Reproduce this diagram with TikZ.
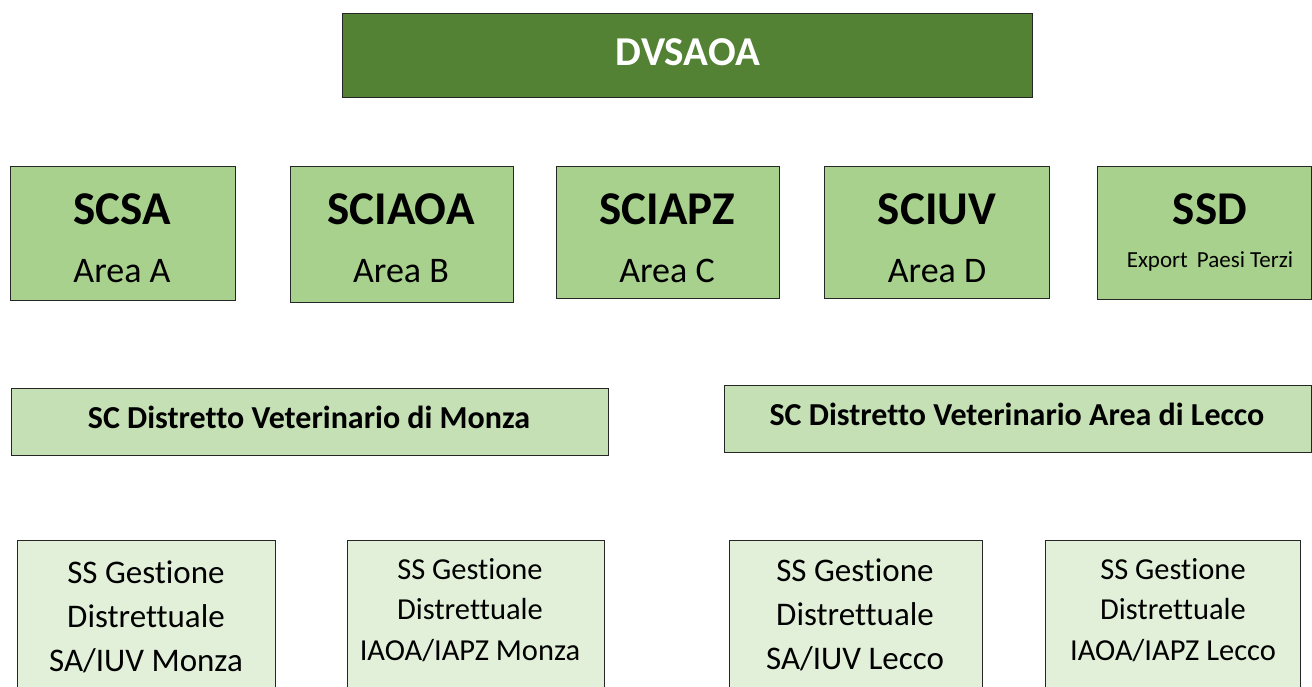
\documentclass[tikz,border=0pt]{standalone}
\usepackage{fontspec}
\setmainfont{Carlito}[Ligatures=NoCommon]
\definecolor{dkgreen}{HTML}{548235}
\definecolor{midgreen}{HTML}{A9D18E}
\definecolor{ltgreen}{HTML}{C5E0B4}
\definecolor{pale}{HTML}{E2F0D9}
\tikzset{
  boxbase/.style={draw=black!85, line width=1pt, inner sep=0pt},
  topbox/.style={boxbase, fill=dkgreen},
  areabox/.style={boxbase, fill=midgreen},
  distbox/.style={boxbase, fill=ltgreen},
  subbox/.style={boxbase, fill=pale},
  txt/.style={anchor=base, inner sep=0pt},
}
\begin{document}
\begin{tikzpicture}[x=1pt,y=-1pt]
\useasboundingbox (0,0) rectangle (1312,687);
\clip (0,0) rectangle (1312,687);
% top
\draw[topbox] (342,14) rectangle (1032,98);
\node[txt, text=white, font=\fontsize{41}{46}\selectfont\bfseries] (dv) at (688,66) {DVSAOA};
% row 2
\draw[areabox] (10,167) rectangle (235,300);
\draw[areabox] (290,167) rectangle (513,302);
\draw[areabox] (556,167) rectangle (779,298);
\draw[areabox] (824,167) rectangle (1049,298);
\draw[areabox] (1097,167) rectangle (1311,299);
\tikzset{big/.style={txt, font=\fontsize{47}{52}\selectfont\bfseries},
         mid/.style={txt, font=\fontsize{36}{42}\selectfont}}
\node[big] (a1) at (122,225) {SCSA};
\node[mid] (a2) at (122,282) {Area A};
\node[big] (b1) at (401,225) {SCIAOA};
\node[mid] (b2) at (401,282) {Area B};
\node[big] (c1) at (667,225) {SCIAPZ};
\node[mid] (c2) at (667,282) {Area C};
\node[big] (d1) at (937,225) {SCIUV};
\node[mid] (d2) at (937,282) {Area D};
\node[big] (e1) at (1210,225) {SSD};
\node[txt, font=\fontsize{23}{28}\selectfont] (e2) at (1210,267) {Export\ \,Paesi Terzi};
% row 3
\draw[distbox] (11,388) rectangle (608,455);
\draw[distbox] (724,385) rectangle (1311,452);
\tikzset{dtxt/.style={txt, font=\fontsize{32}{36}\selectfont\bfseries}}
\node[dtxt] (m) at (309,428) {SC Distretto Veterinario di Monza};
\node[dtxt] (l) at (1017,425) {SC Distretto Veterinario Area di Lecco};
% row 4
\draw[subbox] (17,540) rectangle (275,700);
\draw[subbox] (347,540) rectangle (604,700);
\draw[subbox] (729,540) rectangle (982,700);
\draw[subbox] (1045,540) rectangle (1300,700);
\tikzset{s1/.style={txt, font=\fontsize{33}{40}\selectfont},
         s2/.style={txt, font=\fontsize{30.5}{36}\selectfont}}
\node[s1] (p1) at (146,583) {SS Gestione};
\node[s1] (p2) at (146,627) {Distrettuale};
\node[s1] (p3) at (146,671) {SA/IUV Monza};
\node[s2] (q1) at (470,579) {SS Gestione};
\node[s2] (q2) at (470,619) {Distrettuale};
\node[s2] (q3) at (470,660) {IAOA/IAPZ Monza};
\node[s1] (r1) at (855,581) {SS Gestione};
\node[s1] (r2) at (855,625) {Distrettuale};
\node[s1] (r3) at (855,669) {SA/IUV Lecco};
\node[s2] (t1) at (1173,579) {SS Gestione};
\node[s2] (t2) at (1173,619) {Distrettuale};
\node[s2] (t3) at (1173,660) {IAOA/IAPZ Lecco};
\end{tikzpicture}
\end{document}
